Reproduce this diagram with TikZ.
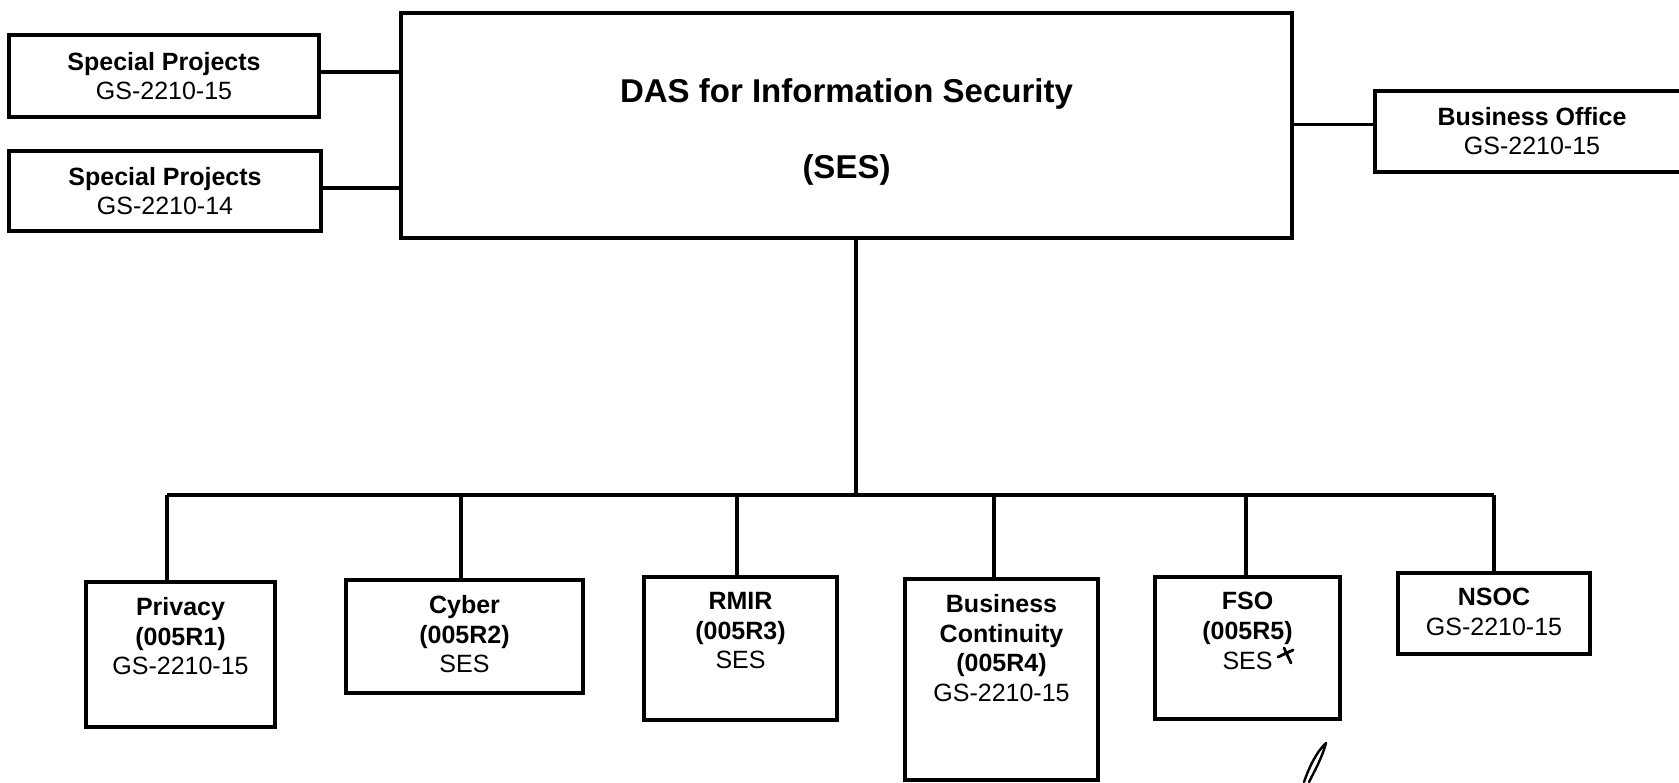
\documentclass[tikz,border=0pt]{standalone}
\usepackage{fontspec}
\setmainfont{Liberation Sans}

\begin{document}
\begin{tikzpicture}[x = 0.5pt, y = -0.5pt,
    unit/.style = {draw, line width = 2pt, inner sep = 0pt},
    side/.style = {align = center, font = \fontsize{12.5}{14.5}\selectfont},
    unit text/.style = {align = center, inner sep = 0pt, anchor = north,
      font = \fontsize{12.5}{14.8}\selectfont},
    link/.style = {line width = 1.6pt},
    pen/.style = {line width = 1.4pt, line cap = round}]
    \useasboundingbox (0, 0) rectangle (1679, 782);
    \node[unit, minimum width = 445.5pt, minimum height = 112.5pt] (das) at (846.5, 125.5) {};
    \node[align = center, font = \fontsize{16.5}{19.8}\selectfont\bfseries] (das title) at ([yshift = -3.2pt] das.center)
      {DAS for Information Security \\[18.5pt] (SES)};
    \node[unit, side, minimum width = 155pt, minimum height = 41pt] (special projects 15) at (164, 76) {\textbf{Special Projects} \\ GS-2210-15};
    \node[unit, side, minimum width = 156pt, minimum height = 40pt] (special projects 14) at (165, 191) {\textbf{Special Projects} \\ GS-2210-14};
    \node[unit, side, minimum width = 157pt, minimum height = 40.5pt] (business office) at (1532, 131.5) {\textbf{Business Office} \\ GS-2210-15};
    \draw[link] ([yshift = 2pt] special projects 15.east) -- ([yshift = 2pt] special projects 15.east -| das.west);
    \draw[link] ([yshift = 1.5pt] special projects 14.east) -- ([yshift = 1.5pt] special projects 14.east -| das.west);
    \draw[link] ([yshift = 3.5pt] business office.west) -- ([yshift = 3.5pt] business office.west -| das.east);
    % offices
    \node[unit, minimum width = 94.5pt, minimum height = 72.5pt] (privacy) at (180.5, 654.5) {};
    \node[unit, minimum width = 118.5pt, minimum height = 56.5pt] (cyber) at (464.5, 636.5) {};
    \node[unit, minimum width = 96.5pt, minimum height = 71.5pt] (rmir) at (740.5, 648.5) {};
    \node[unit, minimum width = 96.5pt, minimum height = 100.5pt] (business continuity) at (1001.5, 679.5) {};
    \node[unit, minimum width = 92.5pt, minimum height = 71pt] (fso) at (1247.5, 648) {};
    \node[unit, minimum width = 96pt, minimum height = 40.5pt] (nsoc) at (1494, 613.5) {};
    \node[unit text] (privacy text) at ([yshift = -8.5pt] privacy.north) {\textbf{Privacy} \\ \textbf{(005R1)} \\ GS-2210-15};
    \node[unit text] (cyber text) at ([yshift = -8.5pt] cyber.north) {\textbf{Cyber} \\ \textbf{(005R2)} \\ SES};
    \node[unit text] (rmir text) at ([yshift = -8.5pt] rmir.north) {\textbf{RMIR} \\ \textbf{(005R3)} \\ SES};
    \node[unit text] (business continuity text) at ([yshift = -8.5pt] business continuity.north) {\textbf{Business} \\ \textbf{Continuity} \\ \textbf{(005R4)} \\ GS-2210-15};
    \node[unit text] (fso text) at ([yshift = -8.5pt] fso.north) {\textbf{FSO} \\ \textbf{(005R5)} \\ SES};
    \node[unit text] (nsoc text) at ([yshift = -8.5pt] nsoc.north) {\textbf{NSOC} \\ GS-2210-15};
    % bus
    \coordinate (bus mid) at (856, 495);
    \draw[link] (bus mid |- das.south) -- (bus mid);
    \foreach \x/\n in {167/privacy, 461/cyber, 737/rmir, 994/business continuity, 1246/fso, 1494/nsoc} {
      \coordinate (drop \n) at (\x, 495);
      \draw[link] (drop \n) -- (drop \n |- \n.north);
    }
    \draw[link] (drop privacy) -- (drop nsoc);
    % handwritten marks
    \draw[pen] (1278, 657) -- (1293, 650);
    \draw[pen] (1284, 648) -- (1291, 663);
    \draw[pen, line width = 1.2pt] (1326, 743) .. controls (1316, 752) and (1308, 770) .. (1304, 782)
      (1326, 743) .. controls (1322, 758) and (1314, 772) .. (1309, 782);
\end{tikzpicture}
\end{document}
